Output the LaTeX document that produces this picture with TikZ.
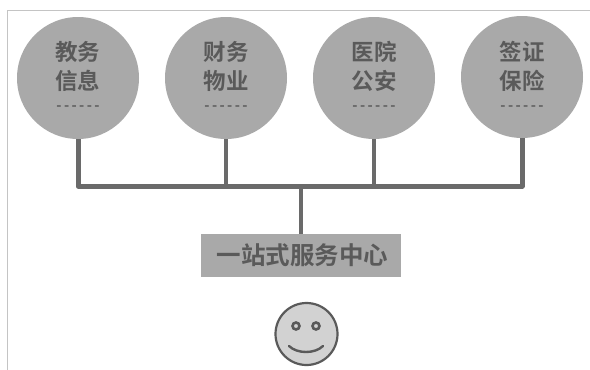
\documentclass[tikz,border=0pt]{standalone}
\usepackage{fontspec}
\newfontfamily\cjk{Noto Sans CJK SC}[BoldFont={Noto Sans CJK SC Bold}]
\definecolor{discgray}{HTML}{A9A9A9}
\definecolor{linegray}{HTML}{6A6A6A}
\definecolor{inkgray}{HTML}{5A5A5A}
\definecolor{framegray}{HTML}{C4C4C4}
\definecolor{facegray}{HTML}{D2D2D2}
\newcommand{\dashrow}{-\kern2.4pt-\kern2.4pt-\kern2.4pt-\kern2.4pt-\kern2.4pt-}
\tikzset{
  disc/.style={circle,fill=discgray,draw=none,minimum size=122pt,inner sep=0pt},
  disctext/.style={text=inkgray,font=\cjk\bfseries\fontsize{22.5}{29}\selectfont,align=center,inner sep=0pt},
  dotstext/.style={text=inkgray,font=\cjk\bfseries\fontsize{14}{14}\selectfont,inner sep=0pt},
  bus/.style={draw=linegray,line width=5pt,line join=round},
  stem/.style={draw=linegray,line width=4.5pt},
  hubbox/.style={rectangle,fill=discgray,draw=none,minimum width=200pt,minimum height=43pt,inner sep=0pt,
    text=inkgray,font=\cjk\bfseries\fontsize{24.5}{26}\selectfont},
  face/.style={circle,fill=facegray,draw=inkgray,line width=2.2pt,minimum size=62pt,inner sep=0pt},
  eye/.style={circle,fill=facegray,draw=inkgray,line width=2.6pt,minimum size=7pt,inner sep=0pt},
  frameline/.style={draw=framegray,line width=0.9pt}
}
\begin{document}
\begin{tikzpicture}[x=1pt,y=-1pt]
\useasboundingbox (0,0) rectangle (590,370);
\fill[white] (0,0) rectangle (590,370);
\coordinate (fa) at (7,370);
\coordinate (fb) at (7,10.5);
\coordinate (fc) at (590,10.5);
\draw[frameline] (fa) -- (fb) -- (fc);

\node[disc] (d1) at (78,78) {};
\node[disc] (d2) at (226,78) {};
\node[disc] (d3) at (374,78) {};
\node[disc] (d4) at (522,77) {};

\node[disctext] (t1) at (78,66) {教务\\信息};
\node[disctext] (t2) at (226,66) {财务\\物业};
\node[disctext] (t3) at (374,66) {医院\\公安};
\node[disctext] (t4) at (522,66) {签证\\保险};
\node[dotstext] (m1) at (78,108) {\dashrow};
\node[dotstext] (m2) at (226,108) {\dashrow};
\node[dotstext] (m3) at (374,108) {\dashrow};
\node[dotstext] (m4) at (522,108) {\dashrow};

\node[hubbox] (hub) at (301,255.5) {\kern3pt 一站式服务中心};

\coordinate (b1) at (78,186);
\coordinate (b2) at (226,186);
\coordinate (b3) at (374,186);
\coordinate (b4) at (522,186);
\coordinate (bm) at (301,186);
\draw[bus] (d1.south) -- (b1) -- (b4) -- (d4.south);
\draw[stem] (d2.south) -- (b2);
\draw[stem] (d3.south) -- (b3);
\draw[stem] (bm) -- (hub.north -| bm);

\node[face] (smile) at (306.5,334) {};
\node[eye] (e1) at (296,326) {};
\node[eye] (e2) at (316,326) {};
\coordinate (ma) at (289,346);
\coordinate (mb) at (323,346);
\draw[draw=inkgray,line width=2.4pt,line cap=round] (ma) .. controls (297,354) and (315,354) .. (mb);
\end{tikzpicture}
\end{document}
